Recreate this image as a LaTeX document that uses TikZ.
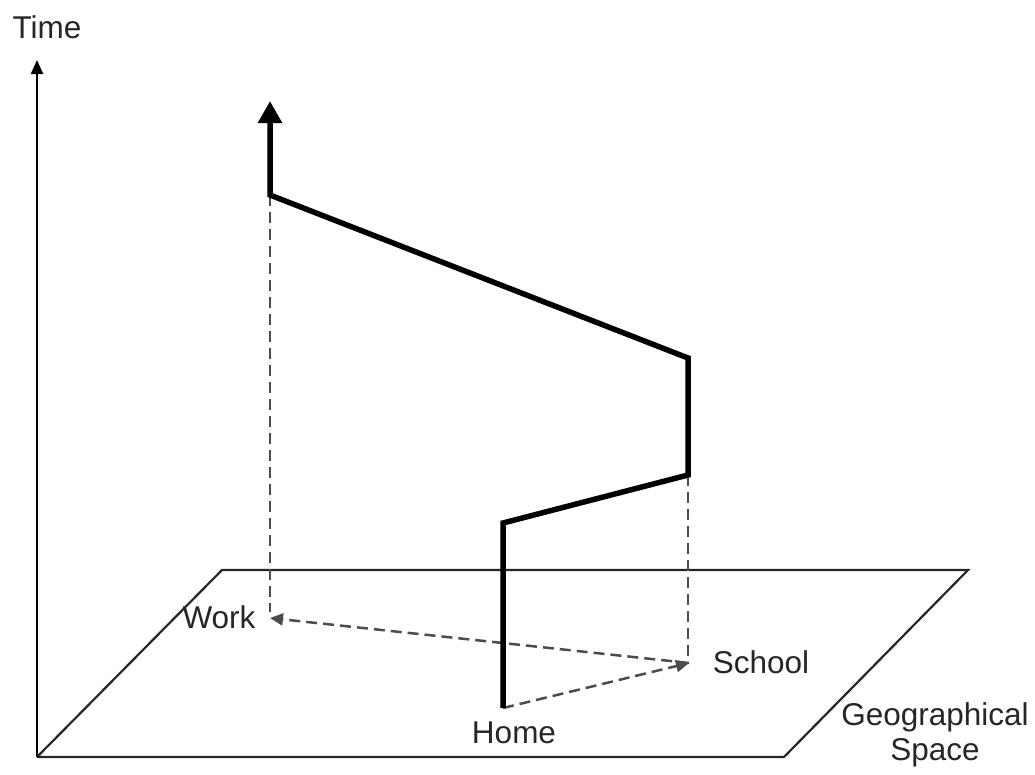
\documentclass[tikz,border=0pt]{standalone}
\usepackage{fontspec}
\setmainfont{Liberation Sans}
\usetikzlibrary{arrows.meta}
\begin{document}
\begin{tikzpicture}[x=1pt,y=-1pt,
  axis/.style={line width=2.2pt, draw=black},
  plane/.style={line width=2.2pt, draw=black!85},
  route/.style={line width=5.5pt, line join=miter, draw=black},
  proj/.style={line width=2.5pt, dash pattern=on 11pt off 6pt, draw=black!70},
  lbl/.style={font=\fontsize{31.5}{35}\selectfont, inner sep=0pt, text=black!85}]
\useasboundingbox (0,0) rectangle (1035,774);
% coordinates
\coordinate (O) at (37,757);
\coordinate (T) at (37,60);
\coordinate (P1) at (222,570);
\coordinate (P2) at (968,570);
\coordinate (P3) at (784,757);
\coordinate (H) at (503,708);
\coordinate (R1) at (503,523);
\coordinate (R2) at (688,475);
\coordinate (R3) at (688,358);
\coordinate (R4) at (270,195);
\coordinate (R5) at (270,101);
\coordinate (S) at (689,663);
\coordinate (W) at (270,618);
\coordinate (Wd) at (270,612);
\coordinate (Sd) at (688,656);
% plane
\draw[plane] (O) -- (P1) -- (P2) -- (P3) -- (O);
% time axis
\draw[axis, -{Triangle[length=14pt,width=12pt]}] (O) -- (T);
% projections
\draw[proj] (R4) -- (Wd);
\draw[proj] (R2) -- (Sd);
\draw[proj, -{Triangle[length=13pt,width=12pt]}] (S) -- (W);
\draw[proj, -{Triangle[length=13pt,width=12pt]}] (H) -- (S);
% route
\draw[route, -{Triangle[length=22pt,width=23pt]}] (H) -- (R1) -- (R2) -- (R3) -- (R4) -- (R5);
% labels
\node[lbl] (time) at (47,27) {Time};
\node[lbl] (work) at (219,617) {Work};
\node[lbl] (school) at (761,662) {School};
\node[lbl] (home) at (514,733) {Home};
\node[lbl, align=center] (geo) at (935,735) {Geographical\\Space};
\end{tikzpicture}
\end{document}
